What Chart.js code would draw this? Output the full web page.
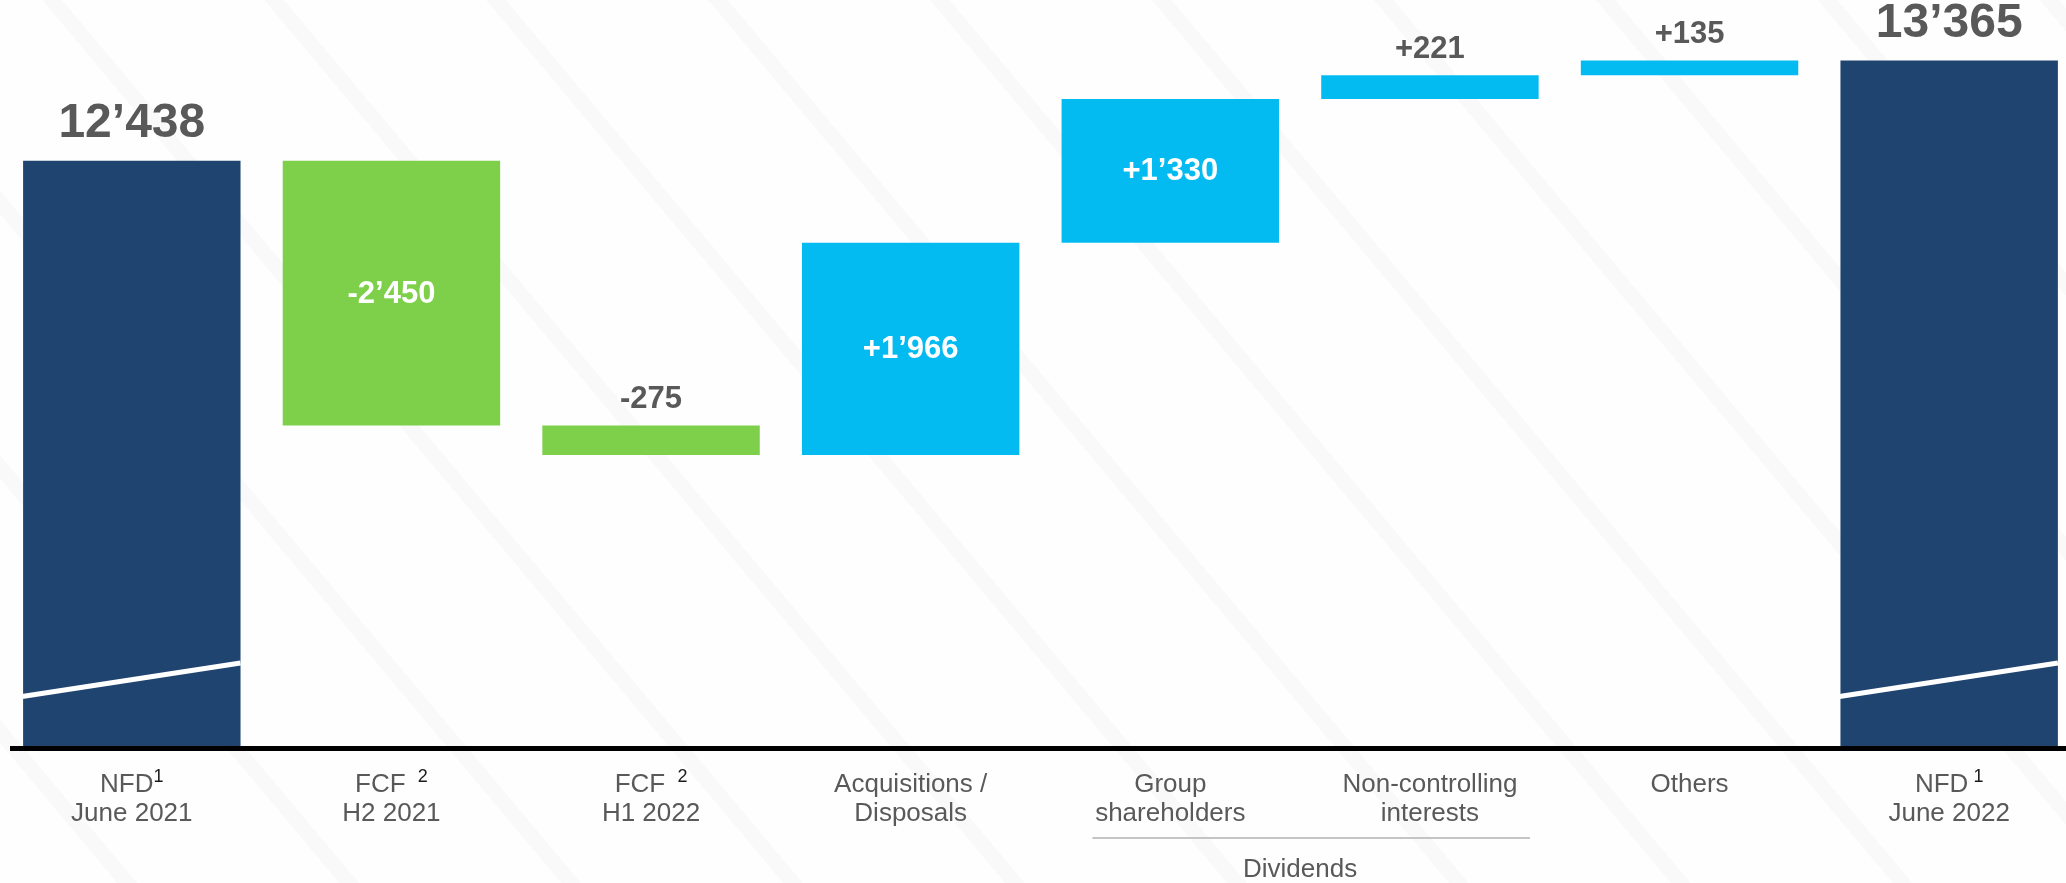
<!DOCTYPE html>
<html>
<head>
<meta charset="utf-8">
<script src="https://cdn.jsdelivr.net/npm/chart.js@4.4.1/dist/chart.umd.min.js"></script>
<style>
  html, body { margin: 0; padding: 0; overflow: hidden; }
  body {
    background: repeating-linear-gradient(50deg, #fefefe 0 90px, #f9f9f9 90px 105px, #fefefe 105px 170px);
  }
  canvas { display: block; }
</style>
</head>
<body>
<canvas id="graficoCascata" width="2066" height="883"></canvas>
<script>
  // categorias (linha 1 + sobrescrito, linha 2)
  const labelTop = ["NFD", "FCF ", "FCF ", "Acquisitions /", "Group", "Non-controlling", "Others", "NFD"];
  const labelSup = ["1", " 2", " 2", "", "", "", "", " 1"];
  const labelBottom = ["June 2021", "H2 2021", "H1 2022", "Disposals", "shareholders", "interests", "", "June 2022"];

  // valores
  const nfdInicial = 12438;
  const movimentos = [-2450, -275, 1966, 1330, 221, 135];
  const nfdFinal = 13365;

  // grupo "Dividends" (indices das categorias)
  const dividendos = { text: "Dividends", from: 4, to: 5 };

  // eixo y cortado (quebra desenhada nas barras de total)
  const yMin = 7020;
  const yMax = 13926;
  const quebra = [7478, 7788];

  const cores = { total: "#1f4470", negativo: "#7ed04b", positivo: "#04bbf1" };
  const cinza = "#595959";

  function formatar(v, sinal) {
    const abs = Math.abs(v);
    let s = abs >= 1000 ? Math.floor(abs / 1000) + "\u2019" + String(abs % 1000).padStart(3, "0") : String(abs);
    if (sinal) s = (v < 0 ? "-" : "+") + s;
    return s;
  }

  // monta as barras flutuantes
  const barras = [{ x: 0, y: nfdInicial }];
  const coresBarras = [cores.total];
  const textos = [formatar(nfdInicial, false)];
  let acumulado = nfdInicial;
  movimentos.forEach((m, i) => {
    barras.push({ x: i + 1, y: [acumulado, acumulado + m] });
    coresBarras.push(m < 0 ? cores.negativo : cores.positivo);
    textos.push(formatar(m, true));
    acumulado += m;
  });
  barras.push({ x: movimentos.length + 1, y: nfdFinal });
  coresBarras.push(cores.total);
  textos.push(formatar(nfdFinal, false));

  const decoracoes = {
    id: "decoracoes",
    afterDatasetsDraw(chart) {
      const { ctx, chartArea, scales } = chart;
      const x = scales.x, y = scales.y;
      const meta = chart.getDatasetMeta(0);
      const ultimo = meta.data.length - 1;
      ctx.save();

      // quebra do eixo nas barras de total
      [0, ultimo].forEach((i) => {
        const b = meta.data[i];
        ctx.strokeStyle = "#ffffff";
        ctx.lineWidth = 5;
        ctx.beginPath();
        ctx.moveTo(b.x - b.width / 2 - 1, y.getPixelForValue(quebra[0]));
        ctx.lineTo(b.x + b.width / 2, y.getPixelForValue(quebra[1]));
        ctx.stroke();
      });

      // linha do eixo
      ctx.fillStyle = "#000000";
      ctx.fillRect(chartArea.left + 8, chartArea.bottom, chartArea.right - chartArea.left, 5);

      // rotulos de valor
      ctx.textAlign = "center";
      ctx.textBaseline = "middle";
      meta.data.forEach((b, i) => {
        const topo = Math.min(b.y, b.base);
        const altura = Math.abs(b.base - b.y);
        if (i === 0 || i === ultimo) {
          ctx.font = "bold 48px 'Liberation Sans', Arial, sans-serif";
          ctx.fillStyle = cinza;
          ctx.fillText(textos[i], b.x, topo - 37);
        } else if (altura > 60) {
          ctx.font = "bold 31px 'Liberation Sans', Arial, sans-serif";
          ctx.fillStyle = "#ffffff";
          ctx.fillText(textos[i], b.x, (b.y + b.base) / 2 + 1);
        } else {
          ctx.font = "bold 31px 'Liberation Sans', Arial, sans-serif";
          ctx.fillStyle = cinza;
          ctx.fillText(textos[i], b.x, topo - 26);
        }
      });

      // rotulos das categorias
      ctx.textBaseline = "alphabetic";
      const base1 = chartArea.bottom + 46;
      const base2 = chartArea.bottom + 75;
      labelTop.forEach((t, i) => {
        const cx = x.getPixelForValue(i);
        ctx.font = "26px 'Liberation Sans', Arial, sans-serif";
        const w1 = ctx.measureText(t).width;
        ctx.font = "18px 'Liberation Sans', Arial, sans-serif";
        const w2 = labelSup[i] ? ctx.measureText(labelSup[i]).width : 0;
        const inicio = cx - (w1 + w2) / 2;
        ctx.textAlign = "left";
        ctx.font = "26px 'Liberation Sans', Arial, sans-serif";
        ctx.fillStyle = cinza;
        ctx.fillText(t, inicio, base1);
        if (labelSup[i]) {
          ctx.font = "18px 'Liberation Sans', Arial, sans-serif";
          ctx.fillStyle = "#1a1a1a";
          ctx.fillText(labelSup[i], inicio + w1, base1 - 10);
        }
        ctx.textAlign = "center";
        ctx.font = "26px 'Liberation Sans', Arial, sans-serif";
        ctx.fillStyle = cinza;
        ctx.fillText(labelBottom[i], cx, base2);
      });

      // grupo Dividends
      const xa = x.getPixelForValue(dividendos.from - 0.3);
      const xb = x.getPixelForValue(dividendos.to + 0.385);
      ctx.strokeStyle = "#c4c4c4";
      ctx.lineWidth = 2;
      ctx.beginPath();
      ctx.moveTo(xa, chartArea.bottom + 92);
      ctx.lineTo(xb, chartArea.bottom + 92);
      ctx.stroke();
      ctx.fillStyle = cinza;
      ctx.font = "26px 'Liberation Sans', Arial, sans-serif";
      ctx.fillText(dividendos.text, (x.getPixelForValue(dividendos.from) + x.getPixelForValue(dividendos.to)) / 2, chartArea.bottom + 131);

      ctx.restore();
    },
  };

  const ctx = document.getElementById("graficoCascata");

  var graficoCascata = new Chart(ctx, {
    type: "bar",
    data: {
      datasets: [
        {
          data: barras,
          backgroundColor: coresBarras,
          borderWidth: 0,
          barPercentage: 0.8375,
          categoryPercentage: 1,
        },
      ],
    },
    options: {
      responsive: false,
      animation: false,
      layout: { padding: { left: 2, right: 0, top: 0, bottom: 137 } },
      plugins: {
        legend: { display: false },
        tooltip: { enabled: false },
      },
      scales: {
        x: {
          type: "linear",
          display: false,
          offset: false,
          min: -0.5,
          max: 7.45,
          afterBuildTicks: (axis) => {
            axis.ticks = labelTop.map((_, i) => ({ value: i }));
          },
        },
        y: {
          display: false,
          min: yMin,
          max: yMax,
        },
      },
    },
    plugins: [decoracoes],
  });
</script>
</body>
</html>
